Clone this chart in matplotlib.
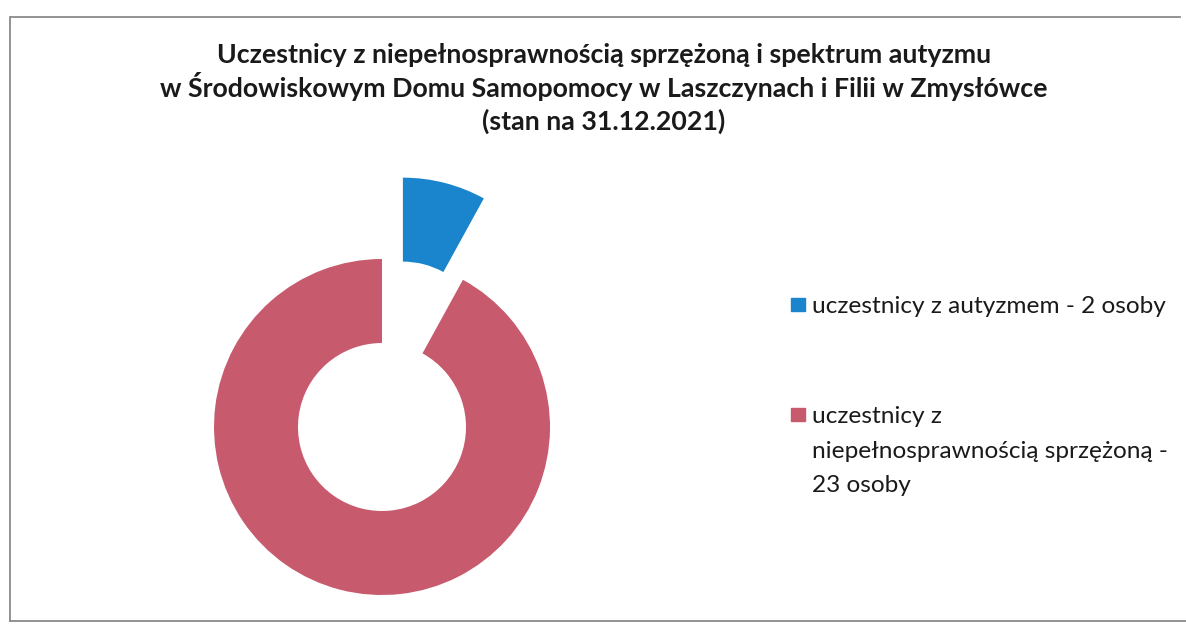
import matplotlib.pyplot as plt
from matplotlib.patches import Rectangle
from matplotlib.lines import Line2D

# data
labels = ['uczestnicy z autyzmem - 2 osoby',
          'uczestnicy z\nniepełnosprawnością sprzężoną -\n23 osoby']
values = [2, 23]
colors = ['#1a84cc', '#c85a6e']
explode = [0.5, 0.0]

title_lines = ['Uczestnicy z niepełnosprawnością sprzężoną i spektrum autyzmu',
               'w Środowiskowym Domu Samopomocy w Laszczynach i Filii w Zmysłówce',
               '(stan na 31.12.2021)']

W, H = 1186, 627
plt.rcParams['font.family'] = ['Lato', 'DejaVu Sans']

fig = plt.figure(figsize=(W / 100, H / 100), dpi=100)
fig.patch.set_facecolor('white')

# axes over whole figure, 1 data unit = pie radius in pixels
cx, cy, r = 382, H - 427, 168
ax = fig.add_axes([0, 0, 1, 1])
ax.pie(values, colors=colors, explode=explode, startangle=90,
       counterclock=False, radius=1,
       wedgeprops=dict(width=0.5, linewidth=0))
ax.set_xlim(-cx / r, (W - cx) / r)
ax.set_ylim(-cy / r, (H - cy) / r)
ax.set_aspect('equal')
ax.axis('off')

def fx(px):
    return px / W

def fy(py):
    return 1 - py / H

# title, one text per line so the baselines sit evenly
for line, base in zip(title_lines, [63, 97, 130]):
    fig.text(fx(604), fy(base), line, ha='center', va='baseline',
             fontsize=19.3, fontweight='bold', color='#1a1a1a')

# legend drawn by hand so the marker sits on the first line
legend_rows = [313, 423]
line_step = 34.5
for lab, col, base in zip(labels, colors, legend_rows):
    fig.patches.append(Rectangle((fx(791), fy(base - 2)), 14 / W, 13 / H,
                                 transform=fig.transFigure, color=col,
                                 figure=fig))
    for i, line in enumerate(lab.split('\n')):
        fig.text(fx(812), fy(base + i * line_step), line, ha='left',
                 va='baseline', fontsize=17.6, color='#1a1a1a')

# scanned chart frame
frame_kw = dict(transform=fig.transFigure, color='#8a8a8a', linewidth=1.3)
fig.lines.append(Line2D([fx(11), fx(1180)], [fy(17), fy(17)], **frame_kw))
fig.lines.append(Line2D([fx(10), fx(10)], [fy(17), fy(621)], **frame_kw))
fig.lines.append(Line2D([fx(10), fx(1186)], [fy(621), fy(621)], **frame_kw))

fig.savefig('out.png', dpi=100)
